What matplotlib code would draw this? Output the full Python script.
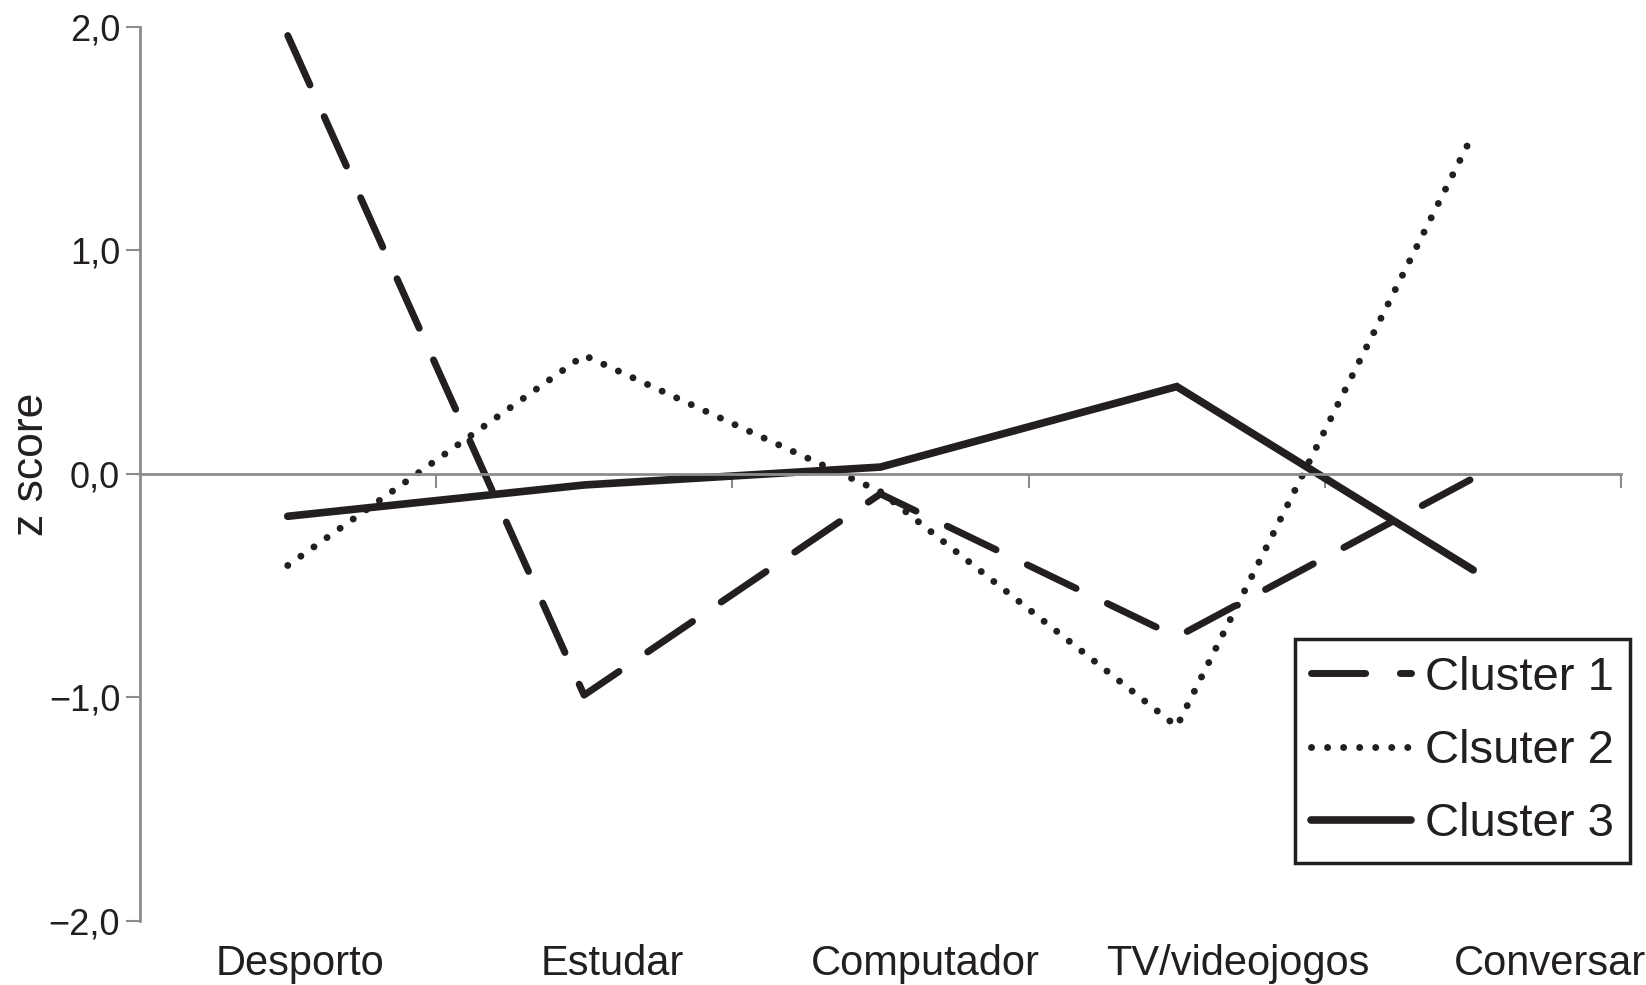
import matplotlib
matplotlib.use("Agg")
import matplotlib.pyplot as plt
import matplotlib.transforms as mtransforms

# données
categories = ["Desporto", "Estudar", "Computador", "TV/videojogos", "Conversar"]
cluster1 = [1.96, -0.99, -0.09, -0.73, -0.02]
cluster2 = [-0.41, 0.53, -0.08, -1.13, 1.52]
cluster3 = [-0.19, -0.05, 0.03, 0.39, -0.43]
labels = ["Cluster 1", "Clsuter 2", "Cluster 3"]
yticks = [-2.0, -1.0, 0.0, 1.0, 2.0]

plt.rcParams['font.family'] = ['Liberation Sans', 'DejaVu Sans']
ink = "#231f20"
grey = "#8c8c8c"

fig = plt.figure(figsize=(16.46, 9.85), dpi=100)
ax = fig.add_axes([0.0848, 0.065, 0.9002, 0.908])

x = list(range(len(categories)))
ax.plot(x, cluster1, color=ink, lw=5, dashes=(7.8, 5.0), solid_capstyle='round',
        dash_capstyle='round', label=labels[0])
ax.plot(x, cluster2, color=ink, lw=5, linestyle=(0, (0.01, 2.3)),
        dash_capstyle='round', label=labels[1])
ax.plot(x, cluster3, color=ink, lw=5.5, solid_capstyle='round',
        solid_joinstyle='miter', label=labels[2])

ax.set_xlim(-0.5, len(categories) - 0.5)
ax.set_ylim(-2.0, 2.0)

for s in ['top', 'right']:
    ax.spines[s].set_visible(False)
ax.spines['left'].set_color(grey)
ax.spines['left'].set_linewidth(2)
ax.spines['bottom'].set_position(('data', 0))
ax.spines['bottom'].set_color(grey)
ax.spines['bottom'].set_linewidth(2)

ax.set_yticks(yticks)
ax.set_yticklabels([f"{v:.1f}".replace('.', ',').replace('-', '\u2212') for v in yticks],
                   fontsize=26, color=ink)
ax.tick_params(axis='y', length=10, width=1.5, color=grey, pad=4)

ax.set_xticks([i + 0.5 for i in x])
ax.set_xticklabels([])
ax.tick_params(axis='x', length=10, width=1.5, color=grey, direction='out')

# les libellés sont un peu décalés vers la droite dans l'original
trans = mtransforms.blended_transform_factory(ax.transData, ax.transAxes)
for i, cat in enumerate(categories):
    ax.text(i * 1.055 + 0.04, -0.048, cat, transform=trans,
            ha='center', va='center', fontsize=30, color=ink)

ax.set_ylabel("z score", fontsize=32, color=ink)
ax.yaxis.set_label_coords(-0.059, 0.511)

leg = ax.legend(loc='lower right', bbox_to_anchor=(1.006, 0.065), fontsize=34,
                frameon=True, fancybox=False, framealpha=1, handlelength=2.1,
                borderpad=0.35, labelspacing=0.62, handletextpad=0.3,
                borderaxespad=0, labelcolor=ink)
leg.get_frame().set_edgecolor(ink)
leg.get_frame().set_linewidth(2.5)

plt.savefig("out.png", dpi=100)
